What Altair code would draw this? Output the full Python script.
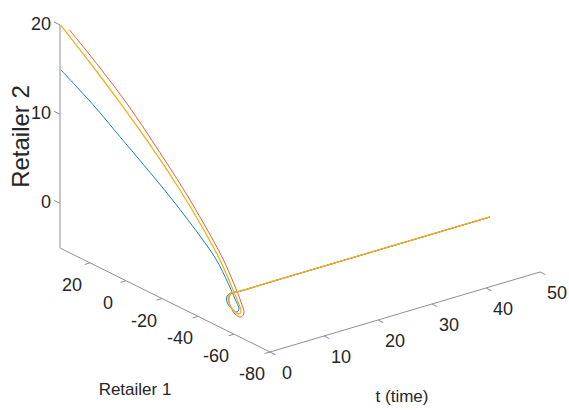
import altair as alt
import pandas as pd

W, H = 569, 410

# ---- axis limits (data space) ----
R1_MIN, R1_MAX = -80.0, 36.7
T_MIN, T_MAX = 0.0, 50.0
Z_MIN, Z_MAX = -5.0, 20.0

# ---- view (oblique 3D projection) ----
OX, OY = 60, 248          # screen position of corner (R1_MAX, T_MIN, Z_MIN)
R_DX, R_DY = 210, 104     # screen span of Retailer 1 axis (R1_MAX -> R1_MIN)
T_DX, T_DY = 270, -80     # screen span of time axis
Z_DY = -223               # screen span of Retailer 2 axis

# ---- data ----
t_vals = [0, 0.15, 0.3, 0.45, 0.6, 0.8, 1.0, 1.2, 1.4, 1.6, 1.8, 2.0, 2.2, 2.5, 2.8, 3.1,
          10, 20, 30, 40, 50]

blue_r1 = [36.1, 18.65, 4.26, -8.07, -20.96, -34.81, -46.9, -53.06, -56.35, -57.97, -56.26,
           -52.88, -49.5, -48.61, -49.93, -52.2, -52.2, -52.2, -52.2, -52.2, -52.2]
blue_z = [15.0, 12.81, 10.66, 8.81, 6.82, 4.4, 1.95, -0.17, -1.67, -2.67, -3.21,
          -3.25, -2.84, -2.31, -1.89, -1.61, -1.61, -1.61, -1.61, -1.61, -1.61]

red_r1 = [31.5, 15.7, -0.19, -15.08, -30.02, -40.92, -50.88, -56.39, -59.68, -60.75, -58.48,
          -54.55, -51.17, -49.72, -50.48, -52.2, -52.2, -52.2, -52.2, -52.2, -52.2]
red_z = [20.0, 17.47, 14.66, 11.53, 8.17, 5.30, 2.34, 0.05, -1.68, -2.84, -3.55,
         -3.64, -3.01, -2.42, -1.84, -1.61, -1.61, -1.61, -1.61, -1.61, -1.61]

yellow_r1 = [36.1, 19.9, 3.31, -12.52, -28.19, -39.26, -49.21, -54.72, -58.02, -59.08, -57.37,
             -53.99, -50.61, -49.16, -49.93, -52.2, -52.2, -52.2, -52.2, -52.2, -52.2]
yellow_z = [20.0, 17.28, 14.31, 11.27, 7.88, 5.02, 2.06, -0.23, -1.84, -2.78, -3.32,
            -3.36, -2.84, -2.36, -1.89, -1.61, -1.61, -1.61, -1.61, -1.61, -1.61]

series_names = ["s1", "s2", "s3"]
series_colors = ["#0072BD", "#D95319", "#EDB120"]
series_widths = [0.9, 0.9, 1.3]

r1_ticks = [20, 0, -20, -40, -60, -80]
t_ticks = [0, 10, 20, 30, 40, 50]
z_ticks = [0, 10, 20]

FONT = "Liberation Sans, Arial, Helvetica, sans-serif"
TXT = "#262626"
AX = "#8f8f8f"

R1_SPAN = R1_MAX - R1_MIN
T_SPAN = T_MAX - T_MIN
Z_SPAN = Z_MAX - Z_MIN


def ex_x(r, t, z):
    return f"{OX} + ({R1_MAX} - {r}) / {R1_SPAN} * {R_DX} + ({t} - {T_MIN}) / {T_SPAN} * {T_DX}"


def ex_y(r, t, z):
    return (f"{OY} + ({R1_MAX} - {r}) / {R1_SPAN} * {R_DY} + ({t} - {T_MIN}) / {T_SPAN} * {T_DY}"
            f" + ({z} - {Z_MIN}) / {Z_SPAN} * {Z_DY}")


xs = alt.Scale(domain=[0, W], nice=False, zero=False)
ys = alt.Scale(domain=[0, H], reverse=True, nice=False, zero=False)


def pt_enc(xf="px", yf="py"):
    return dict(x=alt.X(f"{xf}:Q", scale=xs, axis=None),
                y=alt.Y(f"{yf}:Q", scale=ys, axis=None))


def with_proj(ch, r="datum.r1", t="datum.t", z="datum.z", xo="px", yo="py"):
    return ch.transform_calculate(**{xo: ex_x(r, t, z), yo: ex_y(r, t, z)})


# ---- trajectories ----
rows = []
for name, r1s, zs in zip(series_names, [blue_r1, red_r1, yellow_r1], [blue_z, red_z, yellow_z]):
    for i, (tv, rv, zv) in enumerate(zip(t_vals, r1s, zs)):
        rows.append({"series": name, "i": i, "t": tv, "r1": rv, "z": zv})
traj = pd.DataFrame(rows)

layers = []

# ---- axis lines ----
axes_df = pd.DataFrame({
    "r1a": [R1_MAX, R1_MAX, R1_MIN], "ta": [T_MIN, T_MIN, T_MIN], "za": [Z_MIN, Z_MIN, Z_MIN],
    "r1b": [R1_MAX, R1_MIN, R1_MIN], "tb": [T_MIN, T_MIN, T_MAX], "zb": [Z_MAX, Z_MIN, Z_MIN],
})


def seg_layer(df):
    ch = alt.Chart(df).transform_calculate(
        xa=ex_x("datum.r1a", "datum.ta", "datum.za"),
        ya=ex_y("datum.r1a", "datum.ta", "datum.za"),
        xb=ex_x("datum.r1b", "datum.tb", "datum.zb"),
        yb=ex_y("datum.r1b", "datum.tb", "datum.zb"),
    ).mark_rule(color=AX, strokeWidth=1).encode(
        x=alt.X("xa:Q", scale=xs, axis=None),
        y=alt.Y("ya:Q", scale=ys, axis=None),
        x2="xb:Q", y2="yb:Q")
    return ch


layers.append(seg_layer(axes_df))

# ---- tick marks (outward) ----
tick_rows = []
for r in r1_ticks:
    tick_rows.append({"r1a": r, "ta": T_MIN, "za": Z_MIN, "r1b": r, "tb": T_MIN - 1.0, "zb": Z_MIN})
for tv in t_ticks:
    tick_rows.append({"r1a": R1_MIN, "ta": tv, "za": Z_MIN, "r1b": R1_MIN - 3.0, "tb": tv, "zb": Z_MIN})
for zv in z_ticks:
    tick_rows.append({"r1a": R1_MAX, "ta": T_MIN, "za": zv, "r1b": R1_MAX + 3.3, "tb": T_MIN, "zb": zv})
layers.append(seg_layer(pd.DataFrame(tick_rows)))

# ---- curves ----
for name, col, sw in zip(series_names, series_colors, series_widths):
    layers.append(
        with_proj(alt.Chart(traj).transform_filter(alt.datum.series == name))
        .mark_line(color=col, strokeWidth=sw, interpolate="catmull-rom")
        .encode(order="i:Q", **pt_enc())
    )

# ---- tick labels ----
r1_lab = pd.DataFrame({"r1": r1_ticks, "t": [T_MIN] * len(r1_ticks), "z": [Z_MIN] * len(r1_ticks),
                       "lab": [str(v) for v in r1_ticks]})
t_lab = pd.DataFrame({"r1": [R1_MIN] * len(t_ticks), "t": t_ticks, "z": [Z_MIN] * len(t_ticks),
                      "lab": [str(v) for v in t_ticks]})
z_lab = pd.DataFrame({"r1": [R1_MAX] * len(z_ticks), "t": [T_MIN] * len(z_ticks), "z": z_ticks,
                      "lab": [str(v) for v in z_ticks]})

layers.append(with_proj(alt.Chart(r1_lab)).mark_text(
    font=FONT, fontSize=18, color=TXT, align="center", baseline="middle", dx=-18, dy=23
).encode(text="lab:N", **pt_enc()))
layers.append(with_proj(alt.Chart(t_lab)).mark_text(
    font=FONT, fontSize=18, color=TXT, align="center", baseline="middle", dx=17, dy=22
).encode(text="lab:N", **pt_enc()))
layers.append(with_proj(alt.Chart(z_lab)).mark_text(
    font=FONT, fontSize=18, color=TXT, align="right", baseline="middle", dx=-9, dy=0
).encode(text="lab:N", **pt_enc()))

# ---- axis titles ----
titles_df = pd.DataFrame({
    "r1": [(R1_MAX + R1_MIN) / 2], "t": [T_MIN], "z": [Z_MIN], "lab": ["Retailer 1"]})
layers.append(with_proj(alt.Chart(titles_df)).mark_text(
    font=FONT, fontSize=17, color=TXT, align="center", baseline="middle", dx=-30, dy=90
).encode(text="lab:N", **pt_enc()))

t_title = pd.DataFrame({"r1": [R1_MIN], "t": [(T_MAX + T_MIN) / 2], "z": [Z_MIN], "lab": ["t (time)"]})
layers.append(with_proj(alt.Chart(t_title)).mark_text(
    font=FONT, fontSize=17, color=TXT, align="center", baseline="middle", dx=-3, dy=85
).encode(text="lab:N", **pt_enc()))

z_title = pd.DataFrame({"r1": [R1_MAX], "t": [T_MIN], "z": [(Z_MAX + Z_MIN) / 2], "lab": ["Retailer 2"]})
layers.append(with_proj(alt.Chart(z_title)).mark_text(
    font=FONT, fontSize=24, color=TXT, align="center", baseline="middle", angle=270, dx=0, dy=-38
).encode(text="lab:N", **pt_enc()))

chart = alt.layer(*layers).properties(
    width=W, height=H, padding=0, autosize=alt.AutoSizeParams(type="none"), background="white"
).configure_view(stroke=None)

chart.save("out.html", embed_options={"renderer": "svg", "actions": False})
